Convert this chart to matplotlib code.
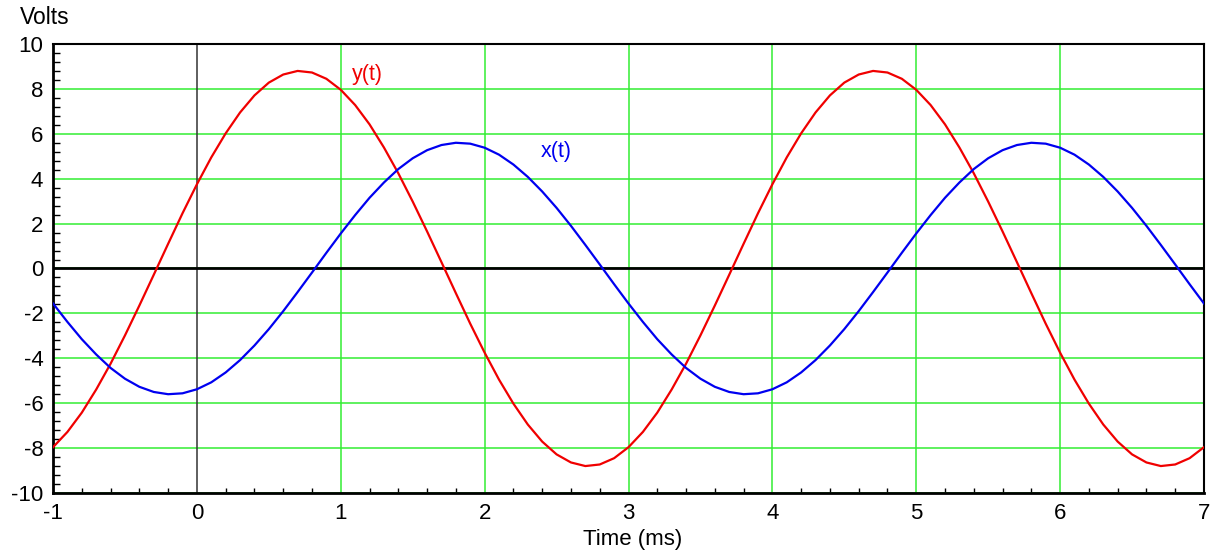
import numpy as np
import matplotlib.pyplot as plt
from matplotlib.ticker import MultipleLocator

plt.rcParams['font.family'] = ['Liberation Sans', 'DejaVu Sans']
plt.rcParams['axes.unicode_minus'] = False

# time axis in ms, step 0.1
t = np.round(np.arange(-1.0, 7.0001, 0.1), 2)

# x(t)
x_vals = [-1.56, -2.38, -3.15, -3.83, -4.43, -4.91, -5.27, -5.50, -5.60, -5.56,
          -5.38, -5.07, -4.63, -4.08, -3.43, -2.70, -1.90, -1.05, -0.18, 0.70,
          1.56, 2.38, 3.15, 3.83, 4.43, 4.91, 5.27, 5.50, 5.60, 5.56,
          5.38, 5.07, 4.63, 4.08, 3.43, 2.70, 1.90, 1.05, 0.18, -0.70,
          -1.56, -2.38, -3.15, -3.83, -4.43, -4.91, -5.27, -5.50, -5.60, -5.56,
          -5.38, -5.07, -4.63, -4.08, -3.43, -2.70, -1.90, -1.05, -0.18, 0.70,
          1.56, 2.38, 3.15, 3.83, 4.43, 4.91, 5.27, 5.50, 5.60, 5.56,
          5.38, 5.07, 4.63, 4.08, 3.43, 2.70, 1.90, 1.05, 0.18, -0.70,
          -1.56]

# y(t)
y_vals = [-7.96, -7.28, -6.42, -5.39, -4.24, -2.98, -1.65, -0.28, 1.10, 2.46,
          3.75, 4.95, 6.02, 6.95, 7.71, 8.28, 8.64, 8.80, 8.73, 8.45,
          7.96, 7.28, 6.42, 5.39, 4.24, 2.98, 1.65, 0.28, -1.10, -2.46,
          -3.75, -4.95, -6.02, -6.95, -7.71, -8.28, -8.64, -8.80, -8.73, -8.45,
          -7.96, -7.28, -6.42, -5.39, -4.24, -2.98, -1.65, -0.28, 1.10, 2.46,
          3.75, 4.95, 6.02, 6.95, 7.71, 8.28, 8.64, 8.80, 8.73, 8.45,
          7.96, 7.28, 6.42, 5.39, 4.24, 2.98, 1.65, 0.28, -1.10, -2.46,
          -3.75, -4.95, -6.02, -6.95, -7.71, -8.28, -8.64, -8.80, -8.73, -8.45,
          -7.96]

fig = plt.figure(figsize=(12.11, 5.52), dpi=100)
ax = fig.add_axes([0.0438, 0.1069, 0.9504, 0.8134])
ax.set_axisbelow(True)

ax.set_xlim(-1, 7)
ax.set_ylim(-10, 10)
ax.xaxis.set_major_locator(MultipleLocator(1))
ax.xaxis.set_minor_locator(MultipleLocator(0.2))
ax.yaxis.set_major_locator(MultipleLocator(2))
ax.yaxis.set_minor_locator(MultipleLocator(0.4))
ax.grid(axis='y', which='major', color='#33ee33', lw=1.1)
# vertical grid except at t=0, where the dark axis line sits
for xv in ax.get_xticks():
    if -1 < xv < 7 and xv != 0:
        ax.axvline(xv, color='#33ee33', lw=1.1, zorder=0.5)
ax.axvline(0, color='#333333', lw=1.1, zorder=2)
ax.axhline(0, color='black', lw=2.0, zorder=2)

ax.plot(t, y_vals, color='#f00000', lw=1.6, zorder=3)
ax.plot(t, x_vals, color='#0000f0', lw=1.6, zorder=3)

ax.text(1.08, 8.62, 'y(t)', color='#f00000', fontsize=15.5, va='center')
ax.text(2.39, 5.2, 'x(t)', color='#0000f0', fontsize=15.5, va='center')

ax.tick_params(which='major', length=0, labelsize=16, pad=7)
ax.tick_params(axis='y', which='minor', direction='in', length=5, width=1, color='black')
ax.tick_params(axis='x', which='minor', direction='in', length=3.5, width=1, color='black')
for side in ['left', 'bottom']:
    ax.spines[side].set_linewidth(2)
for side in ['top', 'right']:
    ax.spines[side].set_linewidth(1.5)

fig.text(0.0165, 0.969, 'Volts', fontsize=16.5, va='center')
fig.text(0.522, 1 - 540 / 552, 'Time (ms)', fontsize=16, ha='center', va='center')

fig.savefig('out.png', dpi=100)
